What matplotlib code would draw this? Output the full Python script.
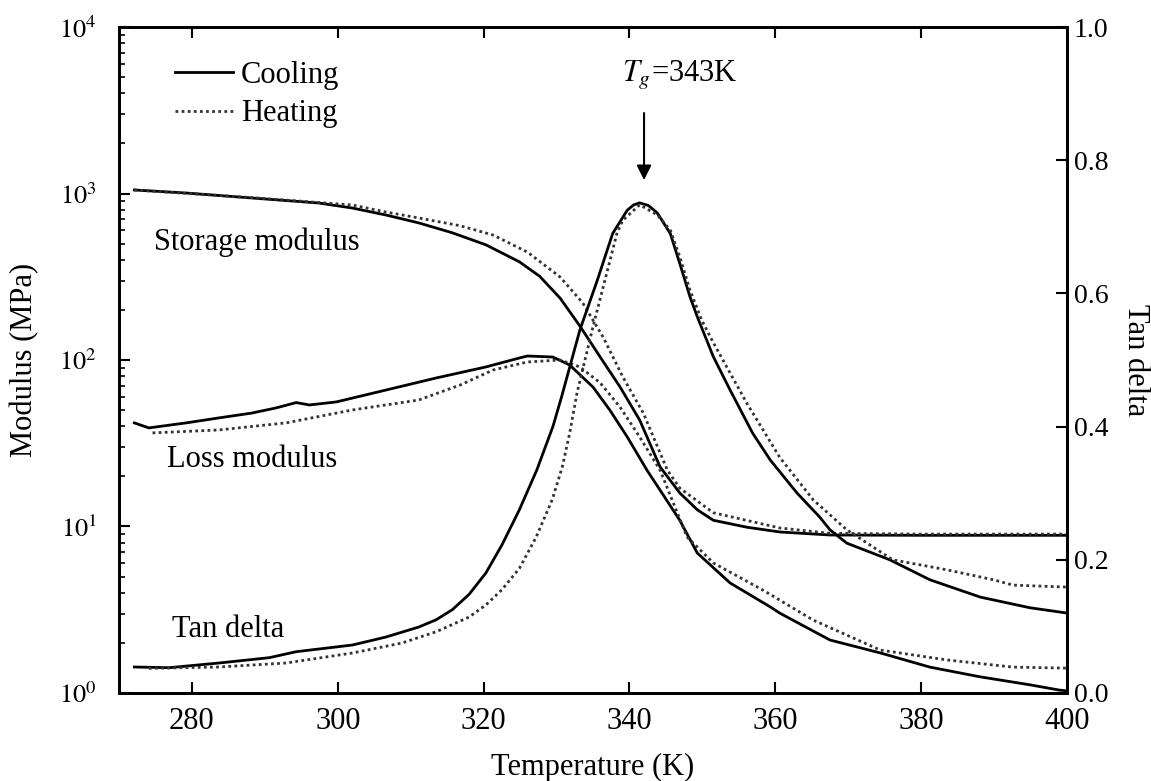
import numpy as np
import matplotlib
matplotlib.use("Agg")
import matplotlib.pyplot as plt
from matplotlib.lines import Line2D

plt.rcParams['font.family'] = ['Liberation Serif', 'DejaVu Serif']
plt.rcParams['mathtext.fontset'] = 'stix'

# ---- data (T in K, modulus in MPa, tan delta unitless)
storage_cool_T = [272.1, 279.2, 288.2, 297.4, 302.0, 306.6, 311.1, 315.7, 320.3, 324.9,
                  327.7, 330.5, 333.2, 336.0, 338.7, 341.4, 344.2, 346.9, 349.3, 351.5,
                  356.1, 360.6, 367.5, 380.0, 400.0]
storage_cool_E = [1050, 1007, 940, 877, 818, 743, 666, 581, 492, 389,
                  318, 235, 160, 104, 69, 43.6, 22.8, 15.9, 12.6, 10.9,
                  9.9, 9.27, 8.89, 8.85, 8.85]

storage_heat_T = [272.1, 288.2, 302.0, 306.6, 311.1, 316.8, 321.3, 326.0, 330.5, 333.6,
                  336.4, 339.1, 341.9, 345.2, 346.9, 351.5, 360.6, 367.5, 380.0, 400.0]
storage_heat_E = [1050, 945, 853, 774, 713, 640, 563, 445, 315, 220,
                  137, 79, 48, 21.8, 17.0, 12.1, 9.8, 9.1, 9.0, 9.0]

loss_cool_T = [272.1, 274.1, 279.2, 283.7, 288.2, 291.5, 294.3, 296.1, 299.8, 306.6,
               313.5, 320.3, 324.9, 326.0, 329.5, 331.8, 335.0, 337.3, 339.7, 342.4,
               346.9, 349.3, 353.8, 359.3, 360.6, 367.5, 374.4, 381.2, 388.1, 394.9,
               399.0, 400.0]
loss_cool_E = [41.9, 39.1, 41.9, 44.9, 48.0, 51.5, 55.5, 53.7, 56.0, 66.0,
               78.0, 90.8, 102.8, 105.7, 104.2, 93.3, 68.8, 50.1, 34.5, 21.8,
               10.9, 6.93, 4.58, 3.29, 3.02, 2.08, 1.74, 1.43, 1.25, 1.12,
               1.04, 1.03]

loss_heat_T = [274.6, 283.7, 292.9, 302.0, 311.1, 316.8, 321.3, 326.0, 330.5, 333.2,
               336.0, 338.7, 341.4, 344.2, 347.9, 351.5, 358.3, 365.2, 374.4, 383.5,
               392.6, 400.0]
loss_heat_E = [36.5, 38.0, 41.9, 50.1, 57.5, 70.8, 87.1, 97.3, 100.0, 90.8,
               72.8, 52.2, 34.5, 21.8, 8.65, 6.04, 4.15, 2.74, 1.81, 1.58,
               1.43, 1.41]

tan_cool_T = [272.1, 276.9, 283.7, 290.6, 294.3, 302.0, 306.6, 311.1, 313.5, 315.7,
              318.0, 320.3, 322.5, 324.9, 327.3, 329.5, 330.7, 331.8, 333.2, 335.6,
              337.7, 339.7, 340.6, 341.4, 342.6, 343.8, 345.6, 346.9, 348.3, 349.3,
              351.5, 353.8, 356.9, 359.3, 363.0, 366.1, 367.5, 369.8, 375.7, 381.2,
              388.1, 394.9, 400.0]
tan_cool = [0.039, 0.038, 0.045, 0.053, 0.062, 0.072, 0.084, 0.099, 0.110, 0.125,
            0.148, 0.180, 0.222, 0.275, 0.335, 0.400, 0.445, 0.489, 0.545, 0.620,
            0.690, 0.725, 0.733, 0.736, 0.732, 0.721, 0.690, 0.645, 0.595, 0.565,
            0.505, 0.455, 0.390, 0.350, 0.300, 0.264, 0.245, 0.225, 0.200, 0.170,
            0.144, 0.128, 0.120]

tan_heat_T = [274.1, 283.7, 292.9, 302.0, 308.8, 313.5, 318.0, 320.3, 322.5, 324.9,
              327.2, 329.4, 330.8, 331.8, 332.8, 335.0, 336.9, 338.3, 339.1, 341.4,
              343.8, 345.6, 346.9, 348.3, 349.9, 351.5, 356.1, 360.6, 365.2, 369.8,
              372.6, 376.1, 383.5, 389.9, 392.6, 400.0]
tan_heat = [0.037, 0.039, 0.045, 0.060, 0.075, 0.092, 0.114, 0.132, 0.155, 0.187,
            0.234, 0.290, 0.340, 0.390, 0.450, 0.550, 0.631, 0.691, 0.710, 0.733,
            0.718, 0.695, 0.655, 0.605, 0.560, 0.526, 0.435, 0.354, 0.290, 0.245,
            0.225, 0.200, 0.185, 0.170, 0.162, 0.159]

fig = plt.figure(figsize=(11.51, 7.81), dpi=100)
ax = fig.add_axes([0.1034, 0.1127, 0.8236, 0.8527])
ax2 = ax.twinx()

lw = 2.0
dot = dict(color='#333333', linestyle=(0, (1, 1.2)), lw=lw)
ax.plot(storage_cool_T, storage_cool_E, color='k', lw=lw)
ax.plot(storage_heat_T, storage_heat_E, **dot)
ax.plot(loss_cool_T, loss_cool_E, color='k', lw=lw)
ax.plot(loss_heat_T, loss_heat_E, **dot)
ax2.plot(tan_cool_T, tan_cool, color='k', lw=lw)
ax2.plot(tan_heat_T, tan_heat, **dot)

ax.set_yscale('log')
ax.set_xlim(270, 400)
ax.set_ylim(1, 1e4)
ax2.set_ylim(0, 1.0)
ax.set_xticks([280, 300, 320, 340, 360, 380, 400])
ax.set_yticks([1, 10, 100, 1000, 10000])
ax.set_yticklabels([r'$10^0$', r'$10^1$', r'$10^2$', r'$10^3$', r'$10^4$'])
ax2.set_yticks([0.0, 0.2, 0.4, 0.6, 0.8, 1.0])
ax2.set_yticklabels(['0.0', '0.2', '0.4', '0.6', '0.8', '1.0'])

fs = 22
ax.tick_params(which='both', direction='in', top=True, right=False)
ax.tick_params(which='major', length=8, width=1.5)
ax.tick_params(which='minor', length=4, width=1.2)
ax.tick_params(axis='x', labelsize=22, pad=10)
ax.tick_params(axis='y', labelsize=19, pad=16)
ax2.tick_params(direction='in', length=8, width=1.5, labelsize=20, pad=5)
for a in (ax, ax2):
    for s in a.spines.values():
        s.set_linewidth(2.0)

ax.set_xlabel('Temperature (K)', fontsize=fs, labelpad=12)
ax.set_ylabel('Modulus (MPa)', fontsize=fs, labelpad=14)
ax2.set_ylabel('Tan delta', fontsize=fs, rotation=270, labelpad=30)

ax.text(274.8, 511, 'Storage modulus', fontsize=fs, va='center')
ax.text(276.6, 25.1, 'Loss modulus', fontsize=fs, va='center')
ax.text(277.3, 2.39, 'Tan delta', fontsize=fs, va='center')

ax2.text(346.9, 0.928, r'$T_g$=343K', fontsize=fs, ha='center', va='center')
ax2.annotate('', xy=(342, 0.766), xytext=(342, 0.875),
             arrowprops=dict(arrowstyle='-|>', color='k', lw=1.5, mutation_scale=22))

handles = [Line2D([], [], color='k', lw=lw),
           Line2D([], [], **dot)]
ax.legend(handles, ['Cooling', 'Heating'], loc='upper left', frameon=False,
          bbox_to_anchor=(0.03, 0.99), fontsize=fs, handlelength=1.9,
          handletextpad=0.25, labelspacing=0.3)

fig.savefig('out.png', dpi=100)
